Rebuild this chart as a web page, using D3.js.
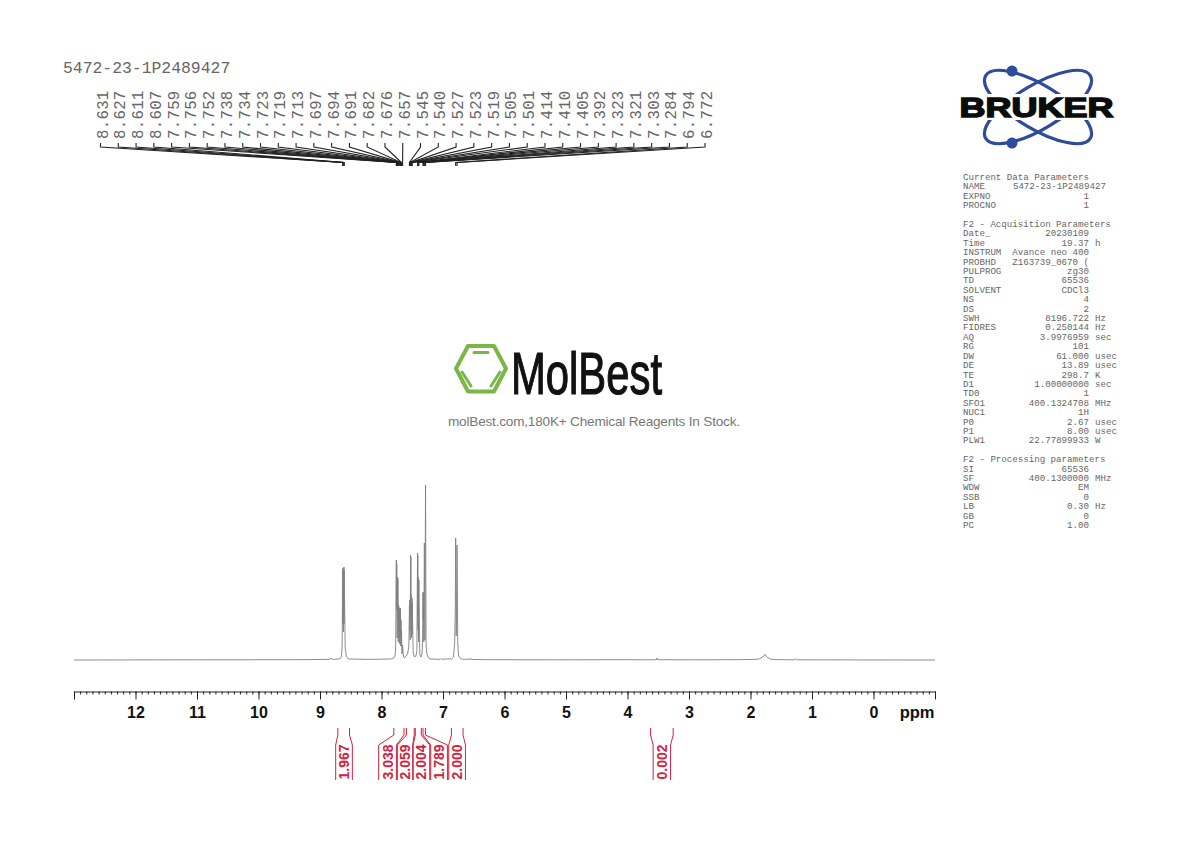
<!DOCTYPE html>
<html>
<head>
<meta charset="utf-8">
<title>5472-23-1P2489427</title>
<script src="https://cdnjs.cloudflare.com/ajax/libs/d3/7.8.5/d3.min.js"></script>
<style>
body { margin: 0; background: white; }
svg { display: block; }
</style>
</head>
<body>
<svg id="svg" width="1190" height="842"></svg>
<script>
// spectrum trace: ppm and height above the baseline
const specPpm = [13, 11, 9.4, 8.85, 8.82, 8.79, 8.72, 8.67, 8.65, 8.64, 8.631, 8.629, 8.627, 8.62, 8.611, 8.609, 8.607, 8.59, 8.57, 8.53, 8.2, 7.85, 7.8, 7.78, 7.77, 7.759, 7.757, 7.756, 7.754, 7.752, 7.745, 7.738, 7.736, 7.734, 7.728, 7.723, 7.721, 7.719, 7.716, 7.713, 7.705, 7.697, 7.695, 7.694, 7.692, 7.691, 7.686, 7.682, 7.679, 7.676, 7.667, 7.657, 7.645, 7.625, 7.6, 7.575, 7.555, 7.545, 7.543, 7.54, 7.533, 7.527, 7.525, 7.523, 7.521, 7.519, 7.512, 7.505, 7.503, 7.501, 7.485, 7.465, 7.44, 7.425, 7.414, 7.412, 7.41, 7.407, 7.405, 7.398, 7.392, 7.378, 7.36, 7.345, 7.335, 7.323, 7.322, 7.321, 7.312, 7.303, 7.294, 7.284, 7.275, 7.262, 7.24, 7.22, 7.14, 7.13, 7.12, 7.05, 7.04, 7.03, 6.95, 6.86, 6.83, 6.81, 6.8, 6.794, 6.785, 6.778, 6.772, 6.76, 6.745, 6.72, 6.68, 6.56, 6.55, 6.54, 6.3, 5.2, 3.95, 3.73, 3.72, 3.71, 3.53, 3.52, 3.51, 3, 2.2, 1.9, 1.85, 1.81, 1.78, 1.765, 1.75, 1.72, 1.68, 1.6, 1.29, 1.27, 1.25, 0.6, -1];
const specAmp = [0, 0.2, 0.3, 0.6, 1.6, 0.6, 0.8, 1.5, 4, 14, 90, 36, 92, 28, 93, 36, 90, 12, 3, 1, 0.6, 1, 2, 4, 12, 100, 54, 99, 50, 96, 22, 83, 40, 81, 18, 55, 30, 54, 22, 52, 16, 50, 26, 52, 24, 48, 14, 40, 14, 30, 6, 15, 4, 2, 4, 6, 14, 55, 30, 60, 20, 105, 60, 103, 42, 65, 22, 62, 26, 58, 8, 3, 4, 9, 107, 44, 105, 30, 83, 18, 80, 6, 3, 5, 12, 68, 40, 67, 18, 117, 20, 175, 16, 6, 3, 1.2, 0.7, 1.6, 0.7, 0.7, 1.4, 0.7, 1, 1.2, 3, 18, 50, 122, 24, 50, 115, 16, 4, 1.5, 0.7, 0.7, 1.8, 0.6, 0.3, 0.2, 0.3, 0.2, 0.9, 0.2, 0.3, 2, 0.3, 0.2, 0.3, 0.7, 1.3, 2.8, 4.2, 5.6, 4.2, 2.4, 1, 0.4, 0.2, 1.2, 0.2, 0.1, 0];

const peakLabels = ["8.631", "8.627", "8.611", "8.607", "7.759", "7.756", "7.752", "7.738", "7.734", "7.723", "7.719", "7.713", "7.697", "7.694", "7.691", "7.682", "7.676", "7.657", "7.545", "7.540", "7.527", "7.523", "7.519", "7.505", "7.501", "7.414", "7.410", "7.405", "7.392", "7.323", "7.321", "7.303", "7.284", "6.794", "6.772"];

const integralLabels = ["1.967", "3.038", "2.059", "2.004", "1.789", "2.000", "0.002"];
const integralFrom = [8.71, 7.80, 7.595, 7.45, 7.325, 6.863, 3.625];
const integralTo = [8.52, 7.634, 7.468, 7.353, 7.286, 6.674, 3.257];
const slotFrom = [8.745, 8.046, 7.742, 7.484, 7.2, 6.907, 3.583];
const slotTo = [8.474, 7.758, 7.493, 7.216, 6.928, 6.635, 3.3];

const majorTicks = [13, 12, 11, 10, 9, 8, 7, 6, 5, 4, 3, 2, 1, 0, -1];
const minorTicks = d3.range(-10, 131).map(d => d / 10);

const paramNames = ["Current Data Parameters", "NAME", "EXPNO", "PROCNO", "", "F2 - Acquisition Parameters", "Date_", "Time", "INSTRUM", "PROBHD", "PULPROG", "TD", "SOLVENT", "NS", "DS", "SWH", "FIDRES", "AQ", "RG", "DW", "DE", "TE", "D1", "TD0", "SFO1", "NUC1", "P0", "P1", "PLW1", "", "F2 - Processing parameters", "SI", "SF", "WDW", "SSB", "LB", "GB", "PC"];
const paramValues = ["", "5472-23-1P2489427", "1", "1", "", "", "20230109", "19.37", "Avance neo 400", "Z163739_0670 (", "zg30", "65536", "CDCl3", "4", "2", "8196.722", "0.250144", "3.9976959", "101", "61.000", "13.89", "298.7", "1.00000000", "1", "400.1324708", "1H", "2.67", "8.00", "22.77899933", "", "", "65536", "400.1300000", "EM", "0", "0.30", "0", "1.00"];
const paramUnits = ["", "", "", "", "", "", "", "h", "", "", "", "", "", "", "", "Hz", "Hz", "sec", "", "usec", "usec", "K", "sec", "", "MHz", "", "usec", "usec", "W", "", "", "", "MHz", "", "", "Hz", "", ""];

const svg = d3.select('#svg');
const mono = "'Liberation Mono', monospace";
const sans = "'Liberation Sans', Arial, sans-serif";
const red = "#d2233c";

const x = d3.scaleLinear().domain([13, -1]).range([74, 935]);
const y = d3.scaleLinear().domain([0, 175]).range([660, 485]);

// spectrum
const line = d3.line().x(d => x(d[0])).y(d => y(d[1]));
svg.append("path")
  .attr("d", line(d3.zip(specPpm, specAmp)))
  .attr("fill", "none")
  .attr("stroke", "#808080")
  .attr("stroke-width", 0.9)
  .attr("stroke-linejoin", "round");

// ppm axis, minor ticks first then the numbered ones
const axisY = 691.5;
svg.append("g")
  .attr("transform", "translate(0," + axisY + ")")
  .call(d3.axisBottom(x).tickValues(minorTicks).tickSize(3).tickFormat("").tickSizeOuter(0))
  .call(g => g.selectAll("line,path").attr("stroke", "#222").attr("stroke-width", 1));

svg.append("g")
  .attr("transform", "translate(0," + axisY + ")")
  .call(d3.axisBottom(x).tickValues(majorTicks).tickSize(8).tickSizeOuter(0).tickPadding(7)
    .tickFormat(d => (d === 13 || d === -1) ? "" : d))
  .call(g => g.select(".domain").remove())
  .call(g => g.selectAll("line").attr("stroke", "#222").attr("stroke-width", 1))
  .call(g => g.selectAll("text")
    .attr("fill", "#111")
    .style("font-family", sans)
    .style("font-weight", "bold")
    .style("font-size", "16px"));

svg.append("text")
  .attr("x", 934.5).attr("y", 717.5)
  .attr("text-anchor", "end")
  .attr("fill", "#111")
  .style("font-family", sans)
  .style("font-weight", "bold")
  .style("font-size", "16.5px")
  .text("ppm");

// title and peak picking
svg.append("text")
  .attr("x", 63).attr("y", 73)
  .attr("fill", "#666")
  .style("font-family", mono)
  .style("font-size", "16.4px")
  .text("5472-23-1P2489427");

const labelX = d3.scalePoint().domain(peakLabels).range([100.5, 705]);

svg.append("g").selectAll("path")
  .data(peakLabels)
  .join("path")
  .attr("d", d => d3.line()([
    [labelX(d), 143], [labelX(d), 147], [x(+d), 162.5], [x(+d), 166]
  ]))
  .attr("fill", "none")
  .attr("stroke", "#222")
  .attr("stroke-width", 1.1);

svg.append("g").selectAll("text")
  .data(peakLabels)
  .join("text")
  .attr("transform", d => "translate(" + (labelX(d) + 7) + ",139) rotate(-90)")
  .attr("fill", "#666")
  .style("font-family", mono)
  .style("font-size", "15.7px")
  .style("letter-spacing", "0.3px")
  .text(d => d);

// integrals
const integrals = integralLabels.map((label, i) => ({
  label: label, from: integralFrom[i], to: integralTo[i], slotFrom: slotFrom[i], slotTo: slotTo[i]
}));

const integralG = svg.append("g").selectAll("g").data(integrals).join("g");

integralG.append("path")
  .attr("d", d => d3.line()([[x(d.from), 728], [x(d.from), 735], [x(d.slotFrom), 745], [x(d.slotFrom), 780]]))
  .attr("fill", "none").attr("stroke", red).attr("stroke-width", 1);

integralG.append("path")
  .attr("d", d => d3.line()([[x(d.to), 728], [x(d.to), 735], [x(d.slotTo), 745], [x(d.slotTo), 780]]))
  .attr("fill", "none").attr("stroke", red).attr("stroke-width", 1);

integralG.append("text")
  .attr("transform", d => "translate(" + ((x(d.slotFrom) + x(d.slotTo)) / 2 + 5) + ",779.5) rotate(-90)")
  .attr("fill", red)
  .style("font-family", sans)
  .style("font-weight", "bold")
  .style("font-size", "14px")
  .text(d => d.label);

// acquisition parameters
const rowY = d3.scaleLinear().domain([0, 37]).range([180, 528]);
const params = svg.append("g")
  .attr("fill", "#666")
  .style("font-family", mono)
  .style("font-size", "9.15px");

params.selectAll("text.name").data(paramNames).join("text")
  .attr("class", "name")
  .attr("x", 963)
  .attr("y", (d, i) => rowY(i))
  .text(d => d);

params.selectAll("text.value").data(paramValues).join("text")
  .attr("class", "value")
  .attr("x", (d, i) => i === 1 ? 1106 : 1089)
  .attr("y", (d, i) => rowY(i))
  .attr("text-anchor", "end")
  .text(d => d);

params.selectAll("text.unit").data(paramUnits).join("text")
  .attr("class", "unit")
  .attr("x", 1095)
  .attr("y", (d, i) => rowY(i))
  .text(d => d);

// Bruker logo
const bruker = svg.append("g");
[-31, 31].forEach(a => {
  bruker.append("ellipse")
    .attr("transform", "translate(1038,107) rotate(" + a + ")")
    .attr("rx", 61).attr("ry", 22)
    .attr("fill", "none")
    .attr("stroke", "#2f4b9b")
    .attr("stroke-width", 3.2);
});
bruker.append("circle").attr("cx", 1012).attr("cy", 71).attr("r", 5.5).attr("fill", "#2f4b9b");
bruker.append("circle").attr("cx", 1012).attr("cy", 143).attr("r", 5.5).attr("fill", "#2f4b9b");
bruker.append("rect").attr("x", 955).attr("y", 94).attr("width", 163).attr("height", 26).attr("fill", "white");
bruker.append("text")
  .attr("x", 959.5).attr("y", 117)
  .attr("textLength", 154)
  .attr("lengthAdjust", "spacingAndGlyphs")
  .attr("fill", "#0c0c0c")
  .attr("stroke", "#0c0c0c")
  .attr("stroke-width", 1.5)
  .style("font-family", sans)
  .style("font-weight", "bold")
  .style("font-size", "28.5px")
  .text("BRUKER");

// MolBest watermark
const green = "#7ab648";
const mol = svg.append("g");
mol.append("path")
  .attr("d", d3.line().curve(d3.curveLinearClosed)([[456, 368.5], [468, 346], [494, 346], [506, 368.5], [494, 391.5], [468, 391.5]]))
  .attr("fill", "none").attr("stroke", green).attr("stroke-width", 4).attr("stroke-linejoin", "round");
[[[474, 352.5], [488, 352.5]], [[462, 372], [471, 386]], [[500, 372], [491, 386]]].forEach(p => {
  mol.append("path")
    .attr("d", d3.line()(p))
    .attr("stroke", green).attr("stroke-width", 3).attr("stroke-linecap", "round");
});
mol.append("text")
  .attr("x", 511).attr("y", 394)
  .attr("textLength", 151)
  .attr("lengthAdjust", "spacingAndGlyphs")
  .attr("fill", "#111")
  .attr("stroke", "#111")
  .attr("stroke-width", 1.2)
  .style("font-family", sans)
  .style("font-size", "59px")
  .text("MolBest");
mol.append("text")
  .attr("x", 448).attr("y", 426)
  .attr("textLength", 292)
  .attr("fill", "#777")
  .style("font-family", sans)
  .style("font-size", "13.6px")
  .text("molBest.com,180K+ Chemical Reagents In Stock.");
</script>
</body>
</html>
